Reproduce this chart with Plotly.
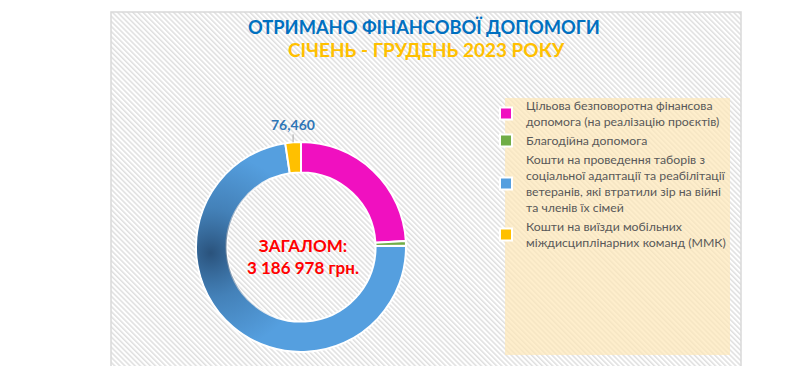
import base64
import math
import plotly.graph_objects as go

# ---- data ----
categories = [
    "Цільова безповоротна фінансова<br>допомога (на реалізацію проєктів)",
    "Благодійна допомога",
    "Кошти на проведення таборів з<br>соціальної адаптації та реабілітації<br>ветеранів, які втратили зір на війні<br>та членів їх сімей",
    "Кошти на виїзди мобільних<br>міждисциплінарних команд (ММК)",
]
values = [768250, 22300, 2319968, 76460]
labelled_index = 3
title_line1 = "ОТРИМАНО ФІНАНСОВОЇ ДОПОМОГИ"
title_line2 = "СІЧЕНЬ - ГРУДЕНЬ 2023 РОКУ"
total_label = "ЗАГАЛОМ:"

# ---- style / layout ----
W, H = 789, 366
OFF = 8  # page body margin
colors = ["#F010C0", "#70AD47", "#559FDF", "#FFC000"]
FONT = "Lato, 'Liberation Sans', sans-serif"


def fx(px):  # page x -> paper
    return (px - OFF) / W


def fy(py):  # page y -> paper
    return 1 - (py - OFF) / H


cx, cy, R = 301, 247, 105
hole = 0.71

total = sum(values)
total_txt = f"{total:,}".replace(",", " ") + " грн."

fig = go.Figure(go.Pie(
    labels=categories,
    values=values,
    sort=False,
    direction="clockwise",
    rotation=0,
    hole=hole,
    marker=dict(colors=colors, line=dict(color="white", width=2)),
    textinfo="none",
    hoverinfo="skip",
    domain=dict(x=[fx(cx - R), fx(cx + R)], y=[fy(cy + R), fy(cy - R)]),
))

# hatched background as an svg pattern image
bx0, by0, bx1, by1 = 111, 12, 741, 380
bw, bh = bx1 - bx0, by1 - by0
svg = (f"<svg xmlns='http://www.w3.org/2000/svg' width='{bw}' height='{bh}'>"
       "<defs><pattern id='p' width='3.6' height='3.6' patternUnits='userSpaceOnUse' "
       "patternTransform='rotate(-45)'><rect width='3.6' height='3.6' fill='white'/>"
       "<rect width='1.5' height='3.6' fill='#DFDFDF'/></pattern></defs>"
       f"<rect width='{bw}' height='{bh}' fill='url(#p)'/></svg>")
src = "data:image/svg+xml;base64," + base64.b64encode(svg.encode()).decode()

# dark shading of the ring (gradient look of the original)
d = 2 * R
ri = R * hole
shade_svg = (f"<svg xmlns='http://www.w3.org/2000/svg' width='{d}' height='{d}'>"
             "<defs><radialGradient id='g' gradientUnits='userSpaceOnUse' "
             f"cx='{R - 0.86 * R:.1f}' cy='{R + 6}' r='{0.95 * R:.1f}'>"
             "<stop offset='0' stop-color='#1F3F63' stop-opacity='0.8'/>"
             "<stop offset='0.45' stop-color='#2A5580' stop-opacity='0.4'/>"
             "<stop offset='1' stop-color='#2A5580' stop-opacity='0'/>"
             "</radialGradient></defs>"
             f"<path fill-rule='evenodd' fill='url(#g)' d='M {R - R + 1} {R} a {R - 1} {R - 1} 0 1 0 {2 * R - 2} 0 "
             f"a {R - 1} {R - 1} 0 1 0 {-(2 * R - 2)} 0 Z M {R - ri} {R} a {ri} {ri} 0 1 0 {2 * ri} 0 "
             f"a {ri} {ri} 0 1 0 {-2 * ri} 0 Z'/></svg>")
shade_src = "data:image/svg+xml;base64," + base64.b64encode(shade_svg.encode()).decode()

images = [
    dict(source=src, xref="paper", yref="paper", x=fx(bx0), y=fy(by0),
         sizex=bw / W, sizey=bh / H, sizing="stretch", xanchor="left",
         yanchor="top", layer="below"),
    dict(source=shade_src, xref="paper", yref="paper", x=fx(cx - R), y=fy(cy - R),
         sizex=d / W, sizey=d / H, sizing="stretch", xanchor="left",
         yanchor="top", layer="above"),
]

shapes = [
    dict(type="rect", xref="paper", yref="paper", x0=fx(bx0), x1=fx(bx1),
         y0=fy(by1), y1=fy(by0), line=dict(color="#D9D9D9", width=1.5),
         fillcolor="rgba(0,0,0,0)", layer="below"),
    dict(type="rect", xref="paper", yref="paper", x0=fx(505), x1=fx(730),
         y0=fy(355), y1=fy(98), line=dict(width=0),
         fillcolor="rgba(253,232,185,0.72)", layer="below"),
]

# label for the yellow slice, placed from the data
before = sum(values[:labelled_index]) + values[labelled_index] / 2
ang = 2 * math.pi * before / total
px = cx + R * math.sin(ang)
py = cy - R * math.cos(ang)

annotations = [
    dict(text=f"<b>{title_line1}</b>", x=fx(424), y=fy(27), xref="paper", yref="paper",
         showarrow=False, font=dict(family=FONT, size=18.3, color="#0070C0"),
         xanchor="center", yanchor="middle"),
    dict(text=f"<b>{title_line2}</b>", x=fx(427), y=fy(49), xref="paper", yref="paper",
         showarrow=False, font=dict(family=FONT, size=19, color="#FFC000"),
         xanchor="center", yanchor="middle"),
    dict(text=f"<b>{total_label}</b><br><b>{total_txt}</b>", x=fx(cx + 2), y=fy(cy + 9),
         xref="paper", yref="paper", showarrow=False,
         font=dict(family=FONT, size=17, color="#FF0000"), xanchor="center", yanchor="middle"),
    dict(text=f"<b>{values[labelled_index]:,}</b>", x=fx(px), y=fy(py), xref="paper",
         yref="paper", showarrow=True, arrowhead=0, arrowwidth=1, arrowcolor="#A6A6A6",
         ax=0, ay=-18, font=dict(family=FONT, size=14, color="#2E75B6")),
]

fig.update_layout(
    width=W, height=H,
    margin=dict(l=0, r=0, t=0, b=0),
    paper_bgcolor="white",
    plot_bgcolor="rgba(0,0,0,0)",
    images=images,
    shapes=shapes,
    annotations=annotations,
    showlegend=True,
    legend=dict(x=fx(486), y=fy(91), xanchor="left", yanchor="top",
                bgcolor="rgba(0,0,0,0)", font=dict(family=FONT, size=12.3, color="#595959"),
                traceorder="normal"),
)

fig.write_html("out.html")
